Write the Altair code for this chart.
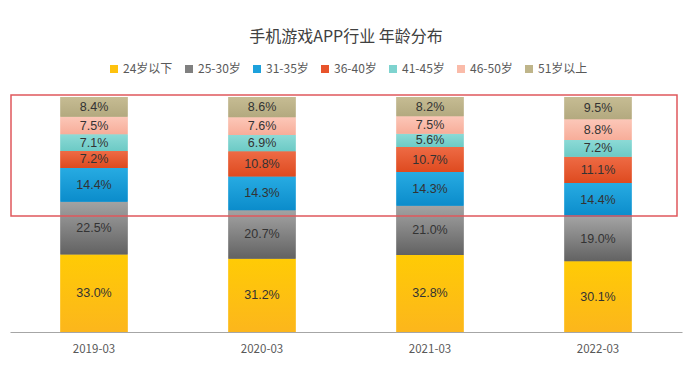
import altair as alt
import pandas as pd

periods = ["2019-03", "2020-03", "2021-03", "2022-03"]
series = ["24岁以下", "25-30岁", "31-35岁", "36-40岁", "41-45岁", "46-50岁", "51岁以上"]
v_24 = [33.0, 31.2, 32.8, 30.1]
v_25_30 = [22.5, 20.7, 21.0, 19.0]
v_31_35 = [14.4, 14.3, 14.3, 14.4]
v_36_40 = [7.2, 10.8, 10.7, 11.1]
v_41_45 = [7.1, 6.9, 5.6, 7.2]
v_46_50 = [7.5, 7.6, 7.5, 8.8]
v_51 = [8.4, 8.6, 8.2, 9.5]
values = [v_24, v_25_30, v_31_35, v_36_40, v_41_45, v_46_50, v_51]

colors = ["#FEC20E", "#808080", "#1DA1DC", "#E8542B", "#7ED3CF", "#FABBA9", "#BFB58A"]
grad_top = ["#FFCB05", "#A3A3A3", "#27ABE2", "#EE6B45", "#8CDAD6", "#FCC7B8", "#C6BC93"]
grad_bot = ["#FCB61C", "#626262", "#0B8CCB", "#DE4A1F", "#6CCAC5", "#F7AD99", "#B3A97F"]

FONT = "Noto Sans CJK SC"
NUM_FONT = "Liberation Sans"

rows = []
for i, s in enumerate(series):
    for j, p in enumerate(periods):
        rows.append({"period": p, "series": s, "order": i,
                     "value": values[i][j], "label": f"{values[i][j]:.1f}%"})
df = pd.DataFrame(rows)

W, H = 672, 235
yscale = alt.Scale(domain=[0, 100.1], nice=False)
xenc = alt.X("period:N", sort=periods,
             scale=alt.Scale(paddingInner=0.6, paddingOuter=0.3),
             axis=alt.Axis(title=None, labelAngle=0, ticks=False, domainColor="#a6a6a6",
                           domainWidth=1.2, labelColor="#595959", labelFontSize=11.5,
                           labelFont=FONT, labelPadding=11))

stacked = alt.Chart(df).transform_stack(
    stack="value", groupby=["period"], as_=["y0", "y1"],
    sort=[alt.SortField("order", order="ascending")]
)

base_bars = stacked.mark_bar().encode(
    x=xenc,
    y=alt.Y("y0:Q", scale=yscale, axis=None),
    y2="y1:Q",
    color=alt.Color("series:N", scale=alt.Scale(domain=series, range=colors),
                    legend=alt.Legend(title=None, orient="none", direction="horizontal",
                                      legendX=98, legendY=-34, symbolType="square",
                                      symbolSize=64, symbolStrokeWidth=0,
                                      labelFontSize=12, labelColor="#595959",
                                      labelFont=FONT, columnPadding=10, symbolOffset=0,
                                      labelOffset=3)),
)

layers = [base_bars]
for i, s in enumerate(series):
    grad = {"gradient": "linear", "x1": 0, "y1": 0, "x2": 0, "y2": 1,
            "stops": [{"offset": 0, "color": grad_top[i]},
                      {"offset": 1, "color": grad_bot[i]}]}
    layers.append(
        stacked.transform_filter(alt.datum.series == s)
        .mark_bar(fill=grad)
        .encode(x=xenc, y=alt.Y("y0:Q", scale=yscale, axis=None), y2="y1:Q")
    )

labels = stacked.transform_calculate(mid="(datum.y0 + datum.y1) / 2").mark_text(
    font=NUM_FONT, fontSize=12.5, color="#333333"
).encode(
    x=xenc,
    y=alt.Y("mid:Q", scale=yscale, axis=None),
    text="label:N",
)
layers.append(labels)

box_df = pd.DataFrame({"top": [101.0], "bottom": [49.4]})
box = alt.Chart(box_df).mark_rect(fill="white", fillOpacity=0, stroke="#E0585C",
                                  strokeWidth=1.5).encode(
    x=alt.value(1), x2=alt.value(667),
    y=alt.Y("top:Q", scale=yscale, axis=None), y2="bottom:Q",
)
layers.append(box)

chart = alt.layer(*layers).properties(
    width=W, height=H,
    title=alt.TitleParams("手机游戏APP行业 年龄分布", fontSize=16, font=FONT,
                          fontWeight="normal", color="#404040", anchor="middle",
                          offset=18),
    autosize=alt.AutoSizeParams(type="none"),
    padding={"left": 2, "top": 89, "right": 2, "bottom": 25},
).configure_view(stroke=None)

chart.save("out.html", embed_options={"renderer": "svg", "actions": False})
